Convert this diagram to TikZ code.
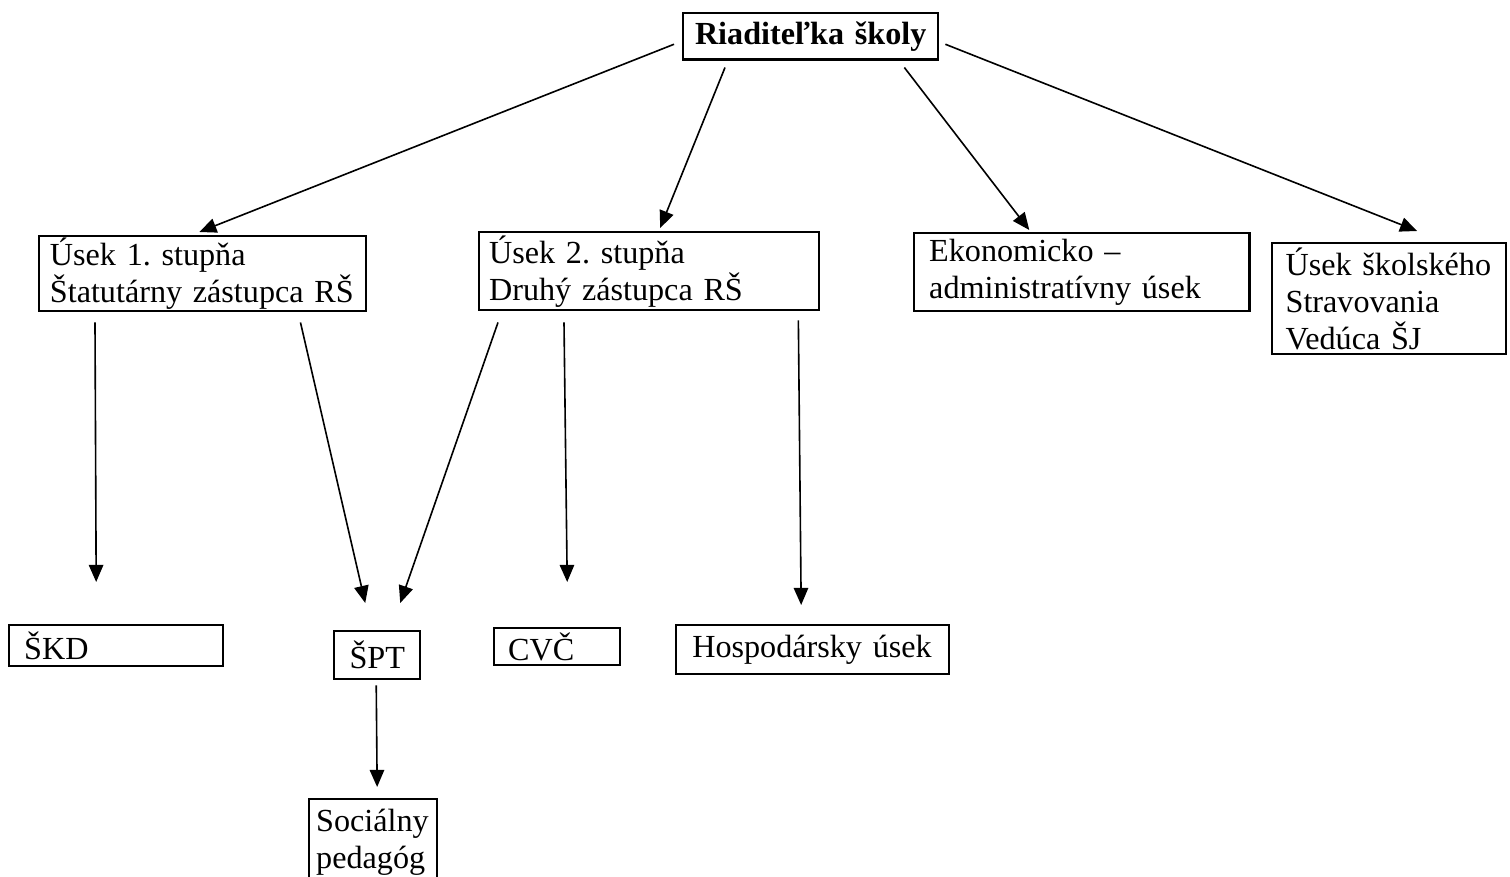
\documentclass[tikz,border=0pt]{standalone}
\usepackage{fontspec}
\setmainfont{Liberation Serif}
\usetikzlibrary{arrows.meta}
\frenchspacing
\tikzset{%
    unit/.style={%
        draw, line width=0.9pt, anchor=north west, align=left,
        inner ysep=0pt, font=\fontsize{12}{13.8}\selectfont
    },
    link/.style={%
        -{Triangle[length=6.4pt, width=5.4pt]}, line width=0.6pt
    }
}

\begin{document}
\begin{tikzpicture}[x=0.373pt, y=-0.373pt]

    \useasboundingbox (0, 0) rectangle (1510, 877);
    \clip (0, 0) rectangle (1510, 877);

    % Head of school
    \node[unit, align=center, inner xsep=3pt, text width=89.1pt,
        minimum height=17.2pt, font=\fontsize{12}{13.8}\selectfont\bfseries]
        (riad) at (682, 12) {Riaditeľka školy};

    % Sections
    \node[unit, inner xsep=4pt, text width=114pt, minimum height=28pt]
        (usek1) at (38, 235) {Úsek 1. stupňa\\Štatutárny zástupca RŠ};
    \node[unit, inner xsep=3.7pt, text width=119.4pt, minimum height=29.1pt]
        (usek2) at (478, 231) {Úsek 2. stupňa\\Druhý zástupca RŠ};
    \node[unit, inner xsep=5.6pt, text width=113.8pt, minimum height=29.1pt]
        (eko) at (913, 232) {Ekonomicko --\\administratívny úsek};
    \node[unit, inner xsep=5pt, text width=77.3pt, minimum height=41.4pt]
        (jedalen) at (1271, 242) {Úsek školského\\Stravovania\\Vedúca ŠJ};

    % Lower units
    \node[unit, inner xsep=5.6pt, text width=68.6pt, minimum height=15.3pt]
        (skd) at (8, 624) {ŠKD};
    \node[unit, align=center, inner xsep=2pt, text width=28.1pt,
        minimum height=17.9pt] (spt) at (333, 630) {ŠPT};
    \node[unit, inner xsep=5.2pt, text width=36.6pt, minimum height=13.8pt]
        (cvc) at (493, 627) {CVČ};
    \node[unit, inner xsep=6pt, text width=89.8pt, minimum height=18.3pt]
        (hosp) at (675, 624) {Hospodársky úsek};
    \node[unit, inner xsep=2.6pt, text width=42.5pt, minimum height=32.5pt]
        (soc) at (308, 798) {Sociálny\\pedagóg};

    % Head to sections
    \draw[link] ([shift={(-8, 8)}] riad.west)
        -- ([shift={(-3.5, -3)}] usek1.north);
    \draw[link] ([shift={(43, 7)}] riad.south west)
        -- ([shift={(11, -3)}] usek2.north);
    \draw[link] ([shift={(-35, 7)}] riad.south east)
        -- ([shift={(-52.5, -2)}] eko.north);
    \draw[link] ([shift={(6, 8)}] riad.east)
        -- ([shift={(28, -11)}] jedalen.north);

    % Sections to lower units
    \draw[link] ([shift={(57, 10)}] usek1.south west)
        -- ([shift={(-20, -42)}] skd.north);
    \draw[link] ([shift={(-67, 10)}] usek1.south east)
        -- ([shift={(-12, -27)}] spt.north);
    \draw[link] ([shift={(20, 11)}] usek2.south west)
        -- ([shift={(23, -27)}] spt.north);
    \draw[link] ([shift={(86, 11)}] usek2.south west)
        -- ([shift={(10, -45)}] cvc.north);
    \draw[link] ([shift={(-22, 9)}] usek2.south east)
        -- ([shift={(-11.5, -19)}] hosp.north);
    \draw[link] ([shift={(-1, 5)}] spt.south)
        -- ([shift={(4, -11)}] soc.north);

\end{tikzpicture}
\end{document}
